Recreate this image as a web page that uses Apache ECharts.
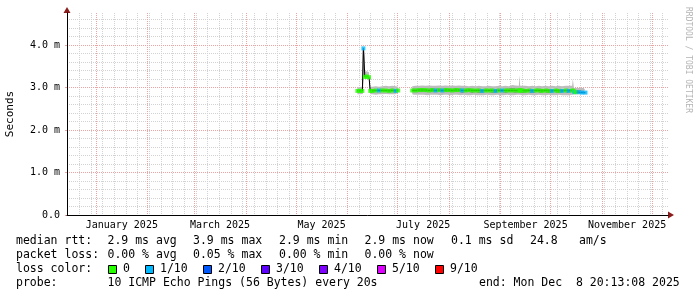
<!DOCTYPE html>
<html>
<head>
<meta charset="utf-8">
<script src="https://cdn.jsdelivr.net/npm/echarts@6/dist/echarts.min.js"></script>
<style>
    html, body { margin: 0; padding: 0; background: #fff; }
    #chart { width: 697px; height: 297px; }
</style>
</head>
<body>
<div id="chart"></div>
<script>
    // sample times (UTC); the two null rows around the first days of July bound the outage gap
    const sampleTimes = [
        '2025-06-07', '2025-06-08T12:00', '2025-06-10T00:00', '2025-06-10T15:00', '2025-06-11T12:00', '2025-06-12T18:00', '2025-06-14T00:00', '2025-06-14T18:00',
        '2025-06-16', '2025-06-18', '2025-06-20', '2025-06-22', '2025-06-24', '2025-06-26', '2025-06-28', '2025-06-30', '2025-07-01T12:00',
        '2025-07-01T20:00', '2025-07-09T20:00',
        '2025-07-10', '2025-07-12', '2025-07-14', '2025-07-16', '2025-07-18', '2025-07-20', '2025-07-22', '2025-07-24', '2025-07-26', '2025-07-28', '2025-07-30',
        '2025-08-01', '2025-08-03', '2025-08-05', '2025-08-07', '2025-08-09', '2025-08-11', '2025-08-13', '2025-08-15', '2025-08-17', '2025-08-19', '2025-08-21',
        '2025-08-23', '2025-08-25', '2025-08-27', '2025-08-29', '2025-08-31',
        '2025-09-02', '2025-09-04', '2025-09-06', '2025-09-08', '2025-09-10', '2025-09-12', '2025-09-12T14:00', '2025-09-13', '2025-09-14', '2025-09-16',
        '2025-09-18', '2025-09-20', '2025-09-22', '2025-09-24', '2025-09-26', '2025-09-28', '2025-09-30',
        '2025-10-02', '2025-10-04', '2025-10-06', '2025-10-08', '2025-10-10', '2025-10-12', '2025-10-14', '2025-10-14T20:00', '2025-10-15T08:00',
        '2025-10-16', '2025-10-18', '2025-10-20', '2025-10-22'
    ];

    // ms
    const smokeLow = [
        2.84, 2.84, 2.85, 3.86, 3.20, 3.21, 3.20, 2.84,
        2.84, 2.83, 2.84, 2.84, 2.85, 2.84, 2.84, 2.84, 2.85,
        null, null,
        2.84, 2.83, 2.83, 2.83, 2.83, 2.82, 2.83, 2.83, 2.83, 2.82, 2.83,
        2.83, 2.82, 2.83, 2.83, 2.82, 2.83, 2.82, 2.82, 2.83, 2.82, 2.82,
        2.82, 2.83, 2.82, 2.82, 2.83,
        2.82, 2.82, 2.83, 2.82, 2.82, 2.83, 2.83, 2.82, 2.82, 2.82,
        2.83, 2.82, 2.82, 2.83, 2.82, 2.82, 2.83,
        2.82, 2.82, 2.83, 2.82, 2.82, 2.82, 2.83, 2.83, 2.84,
        2.84, 2.84, 2.84, 2.84
    ];
    const smokeInnerLow = [
        2.88, 2.88, 2.89, 3.89, 3.22, 3.23, 3.22, 2.88,
        2.88, 2.88, 2.88, 2.89, 2.89, 2.88, 2.88, 2.88, 2.89,
        null, null,
        2.88, 2.88, 2.88, 2.89, 2.88, 2.88, 2.88, 2.88, 2.89, 2.88, 2.88,
        2.88, 2.88, 2.88, 2.88, 2.87, 2.88, 2.88, 2.87, 2.88, 2.87, 2.87,
        2.88, 2.88, 2.87, 2.87, 2.88,
        2.88, 2.87, 2.88, 2.88, 2.87, 2.88, 2.88, 2.87, 2.87, 2.87,
        2.88, 2.87, 2.87, 2.88, 2.87, 2.88, 2.87,
        2.87, 2.88, 2.87, 2.87, 2.88, 2.87, 2.88, 2.88, 2.86,
        2.86, 2.86, 2.86, 2.86
    ];
    const medianRtt = [
        2.92, 2.92, 2.92, 3.92, 3.25, 3.26, 3.24, 2.92,
        2.92, 2.93, 2.93, 2.93, 2.93, 2.92, 2.93, 2.92, 2.93,
        null, null,
        2.93, 2.93, 2.94, 2.94, 2.94, 2.93, 2.94, 2.93, 2.94, 2.93, 2.94,
        2.94, 2.93, 2.94, 2.94, 2.93, 2.93, 2.94, 2.93, 2.93, 2.93, 2.92,
        2.93, 2.93, 2.93, 2.92, 2.93,
        2.93, 2.93, 2.93, 2.93, 2.93, 2.93, 2.93, 2.93, 2.93, 2.92,
        2.93, 2.92, 2.93, 2.93, 2.92, 2.93, 2.92,
        2.92, 2.93, 2.92, 2.92, 2.93, 2.92, 2.93, 2.92, 2.89,
        2.89, 2.89, 2.88, 2.88
    ];
    const smokeInnerHigh = [
        2.96, 2.96, 2.97, 3.96, 3.30, 3.31, 3.29, 2.96,
        2.97, 2.97, 2.97, 2.98, 2.97, 2.97, 2.98, 2.97, 2.97,
        null, null,
        2.98, 2.98, 2.98, 2.99, 2.98, 2.98, 2.99, 2.98, 2.98, 2.98, 2.99,
        2.98, 2.98, 2.99, 2.98, 2.98, 2.98, 2.98, 2.98, 2.97, 2.98, 2.97,
        2.98, 2.97, 2.98, 2.97, 2.98,
        2.97, 2.98, 2.98, 3.00, 2.98, 2.98, 2.99, 2.98, 2.98, 2.97,
        2.98, 2.97, 2.98, 2.98, 2.97, 2.98, 2.97,
        2.97, 2.98, 2.97, 2.97, 2.98, 2.97, 2.98, 2.98, 2.94,
        2.94, 2.94, 2.93, 2.93
    ];
    const smokeHigh = [
        3.00, 3.01, 3.02, 4.05, 3.37, 3.38, 3.36, 3.02,
        3.02, 3.03, 3.02, 3.03, 3.04, 3.03, 3.04, 3.03, 3.02,
        null, null,
        3.03, 3.04, 3.04, 3.05, 3.04, 3.05, 3.04, 3.04, 3.05, 3.04, 3.05,
        3.04, 3.05, 3.04, 3.05, 3.04, 3.04, 3.03, 3.04, 3.03, 3.04, 3.03,
        3.03, 3.04, 3.03, 3.03, 3.04,
        3.03, 3.04, 3.03, 3.06, 3.05, 3.04, 3.29, 3.04, 3.04, 3.04,
        3.03, 3.04, 3.03, 3.04, 3.03, 3.04, 3.03,
        3.04, 3.03, 3.04, 3.03, 3.04, 3.04, 3.04, 3.20, 2.99,
        2.99, 2.99, 2.99, 2.99
    ];
    // lost pings out of 10
    const lossTenths = [
        0, 0, 0, 1, 0, 0, 0, 0,
        0, 0, 1, 0, 0, 0, 0, 1, 0,
        null, null,
        0, 0, 0, 0, 0, 0, 0, 1, 0, 1, 0,
        0, 0, 0, 0, 1, 0, 0, 0, 0, 0, 1,
        0, 0, 0, 1, 0,
        1, 0, 0, 0, 0, 0, 0, 0, 0, 0,
        0, 1, 0, 0, 0, 0, 0,
        1, 0, 0, 1, 0, 1, 0, 0, 1,
        0, 1, 1, 1
    ];

    const lossLevels = [0, 1, 2, 3, 4, 5, 9];
    const lossLabels = ['0', '1/10', '2/10', '3/10', '4/10', '5/10', '9/10'];
    const lossColors = ['#26ff00', '#00b8ff', '#0059ff', '#5e00ff', '#7e00ff', '#dd00ff', '#ff0000'];

    const monthStarts = ['2025-01-01', '2025-02-01', '2025-03-01', '2025-04-01', '2025-05-01', '2025-06-01',
        '2025-07-01', '2025-08-01', '2025-09-01', '2025-10-01', '2025-11-01', '2025-12-01'];
    const labelMonths = ['2025-01-01', '2025-03-01', '2025-05-01', '2025-07-01', '2025-09-01', '2025-11-01'];
    const monthLabels = ['January 2025', 'March 2025', 'May 2025', 'July 2025', 'September 2025', 'November 2025'];
    const yTicks = [0, 1, 2, 3, 4];
    const yTickLabels = ['0.0', '1.0 m', '2.0 m', '3.0 m', '4.0 m'];

    const statLines = [
        [['median rtt:', 16], ['2.9 ms avg', 107.5], ['3.9 ms max', 193], ['2.9 ms min', 279], ['2.9 ms now', 364.5], ['0.1 ms sd', 451], ['24.8', 530], ['am/s', 579]],
        [['packet loss:', 16], ['0.00 % avg', 107.5], ['0.05 % max', 193], ['0.00 % min', 279], ['0.00 % now', 364.5]],
        [['loss color:', 16]],
        [['probe:', 16], ['10 ICMP Echo Pings (56 Bytes) every 20s', 107.5], ['end: Mon Dec  8 20:13:08 2025', 479]]
    ];

    const ts = s => Date.parse(s.length > 10 ? s + 'Z' : s + 'T00:00:00Z');
    const DAY = 86400000;
    const xMin = ts('2024-12-14T14:00');
    const xMax = ts('2025-12-10T14:00');
    const yMax = 4.753;

    // grid lines: weekly (Sundays) and every 0.2 ms
    const weekTicks = [];
    for (let t = ts('2024-12-15'); t < xMax; t += 7 * DAY) weekTicks.push(t);
    const yMinorTicks = [];
    for (let i = 0; i <= 23; i++) yMinorTicks.push(Math.round(i * 2) / 10);

    const monthTs = monthStarts.map(ts);
    const labelPos = labelMonths.map(m => {
        const i = monthStarts.indexOf(m);
        return (monthTs[i] + monthTs[i + 1]) / 2;
    });

    const pts = arr => sampleTimes.map((s, i) => [ts(s), arr[i] == null ? '-' : arr[i]]);
    const diff = (a, b) => a.map((v, i) => v == null ? null : Math.round((v - b[i]) * 1000) / 1000);

    const MONO = '"DejaVu Sans Mono", monospace';
    const RED_GRID = '#eba3a3';
    const GRAY_GRID = '#d2d2d2';

    function band(data, color) {
        return {
            type: 'line', stack: 'smoke', step: 'middle', data: data,
            xAxisIndex: 0, yAxisIndex: 0,
            showSymbol: false, silent: true, z: 2,
            lineStyle: { width: 0, opacity: 0 },
            areaStyle: color ? { color: color, opacity: 1 } : undefined
        };
    }

    const lossData = [];
    sampleTimes.forEach((s, i) => {
        if (medianRtt[i] == null) return;
        lossData.push({
            value: [ts(s), medianRtt[i]],
            itemStyle: { color: lossColors[lossLevels.indexOf(lossTenths[i])] }
        });
    });

    const graphic = [];
    statLines.forEach((line, li) => {
        line.forEach(([text, x]) => {
            graphic.push({
                type: 'text', x: x, y: 241 + li * 14, silent: true,
                style: { text: text, font: '11.5px ' + MONO, fill: '#000', verticalAlign: 'middle' }
            });
        });
    });
    let lx = 108;
    lossLabels.forEach((lab, i) => {
        graphic.push({
            type: 'rect', silent: true,
            shape: { x: lx + 0.5, y: 265.5, width: 8, height: 8 },
            style: { fill: lossColors[i], stroke: '#000', lineWidth: 1 }
        });
        graphic.push({
            type: 'text', x: lx + 15, y: 269, silent: true,
            style: { text: lab, font: '11.5px ' + MONO, fill: '#000', verticalAlign: 'middle' }
        });
        lx += 15 + lab.length * 7 + 15;
    });
    graphic.push(
        {
            type: 'text', x: 10, y: 114, rotation: Math.PI / 2, silent: true,
            style: { text: 'Seconds', font: '11px ' + MONO, fill: '#000', align: 'center', verticalAlign: 'middle' }
        },
        {
            type: 'text', x: 688, y: 60, rotation: -Math.PI / 2, silent: true,
            style: { text: 'RRDTOOL / TOBI OETIKER', font: '8px ' + MONO, fill: '#b4b4b4', align: 'center', verticalAlign: 'middle' }
        },
        {
            type: 'polygon', silent: true,
            shape: { points: [[63.5, 13], [70.5, 13], [67, 7]] },
            style: { fill: '#8b1c1c' }
        },
        {
            type: 'polygon', silent: true,
            shape: { points: [[668, 211.5], [668, 218.5], [674, 215]] },
            style: { fill: '#8b1c1c' }
        }
    );

    const chart = echarts.init(document.getElementById('chart'), null, { renderer: 'canvas' });
    chart.setOption({
        animation: false,
        backgroundColor: '#fff',
        grid: { left: 67, right: 29, top: 13, bottom: 82 },
        xAxis: [
            {
                // data axis
                type: 'time', min: xMin, max: xMax, z: 2,
                axisLine: { show: true, lineStyle: { color: '#000', width: 1 } },
                axisTick: { show: false },
                axisLabel: { show: false },
                splitLine: { show: false }
            },
            {
                // month lines + labels
                type: 'value', min: xMin, max: xMax, z: 1, position: 'bottom',
                axisLine: { show: false },
                axisTick: { show: false, customValues: monthTs },
                axisLabel: {
                    customValues: labelPos,
                    formatter: (v, i) => monthLabels[labelPos.indexOf(v)] || monthLabels[i] || '',
                    color: '#000', fontFamily: MONO, fontSize: 10, margin: 5, hideOverlap: false
                },
                splitLine: { show: true, lineStyle: { color: RED_GRID, width: 1, type: [1, 1] } }
            },
            {
                // weekly lines
                type: 'value', min: xMin, max: xMax, z: 0, position: 'bottom',
                axisLine: { show: false },
                axisTick: { show: false, customValues: weekTicks },
                axisLabel: { show: false },
                splitLine: { show: true, lineStyle: { color: GRAY_GRID, width: 1, type: [1, 1] } }
            }
        ],
        yAxis: [
            {
                type: 'value', min: 0, max: yMax, z: 1,
                axisLine: { show: true, lineStyle: { color: '#000', width: 1 } },
                axisTick: { show: true, length: 2, customValues: yTicks, lineStyle: { color: RED_GRID } },
                axisLabel: {
                    customValues: yTicks,
                    formatter: v => yTickLabels[yTicks.indexOf(v)],
                    color: '#000', fontFamily: MONO, fontSize: 10, margin: 7
                },
                splitLine: { show: true, lineStyle: { color: RED_GRID, width: 1, type: [1, 1] } }
            },
            {
                type: 'value', min: 0, max: yMax, z: 0,
                axisLine: { show: false },
                axisTick: { show: false, customValues: yMinorTicks },
                axisLabel: { show: false },
                splitLine: { show: true, lineStyle: { color: GRAY_GRID, width: 1, type: [1, 1] } }
            }
        ],
        series: [
            band(pts(smokeLow), null),
            band(pts(diff(smokeInnerLow, smokeLow)), '#bdbdbd'),
            band(pts(diff(smokeInnerHigh, smokeInnerLow)), '#8e8e8e'),
            band(pts(diff(smokeHigh, smokeInnerHigh)), '#bdbdbd'),
            {
                type: 'line', data: pts(medianRtt), showSymbol: false, silent: true, z: 3,
                xAxisIndex: 0, yAxisIndex: 0,
                lineStyle: { color: '#000', width: 1 }
            },
            {
                type: 'scatter', data: lossData, symbol: 'rect', symbolSize: [4, 4], silent: true, z: 4,
                xAxisIndex: 0, yAxisIndex: 0
            }
        ],
        graphic: graphic
    });
</script>
</body>
</html>
